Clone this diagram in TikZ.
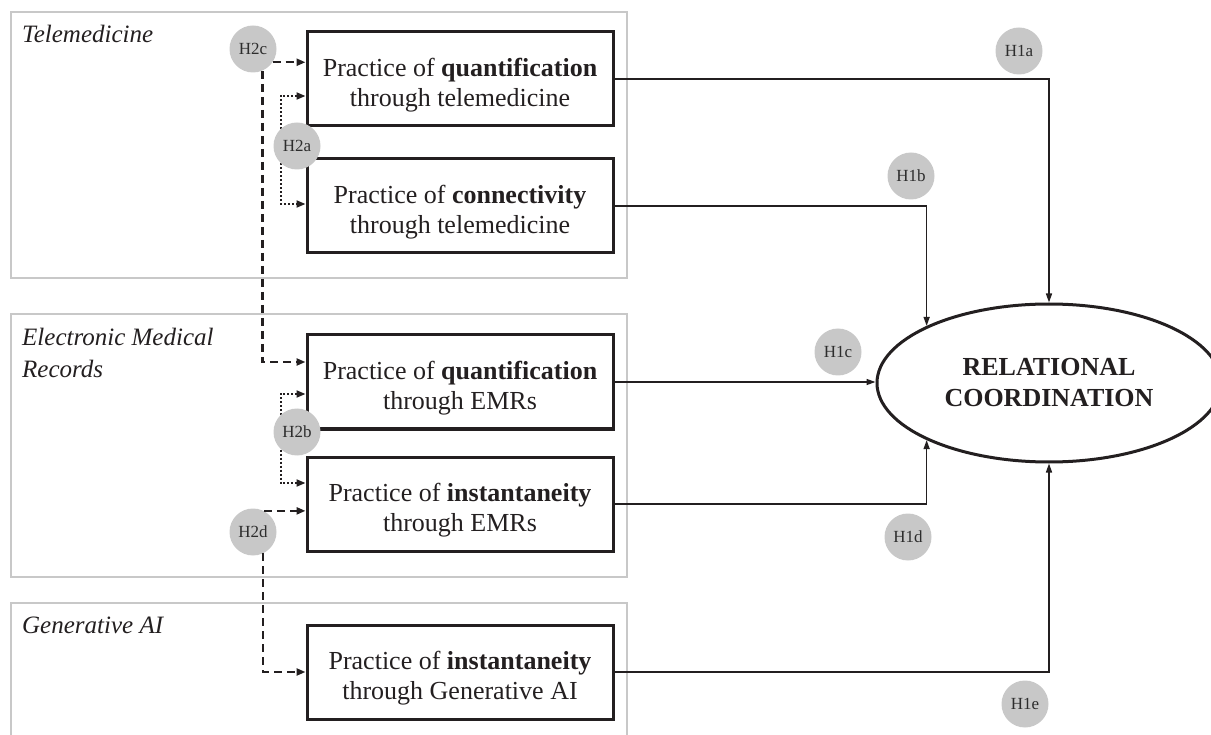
\documentclass[tikz,border=0pt]{standalone}
\usepackage{fontspec}
\setmainfont{Liberation Serif}
\usetikzlibrary{arrows.meta,shapes.geometric,calc}
\definecolor{groupgray}{RGB}{200,200,200}
\definecolor{hypgray}{RGB}{200,200,200}
\definecolor{boxblack}{RGB}{35,31,32}
\definecolor{hyptext}{RGB}{45,45,45}
\begin{document}
\begin{tikzpicture}[x=1pt,y=-1pt,
  group/.style={draw=groupgray,line width=2.5pt},
  grouptitle/.style={inner sep=0pt,align=left,font=\fontsize{25}{32}\selectfont\itshape,text=boxblack},
  practice/.style={draw=boxblack,line width=3pt,minimum width=306pt,minimum height=94pt,inner sep=0pt},
  ptext/.style={inner sep=0pt,align=center,font=\fontsize{26}{30}\selectfont,text=boxblack,yshift=-6pt},
  hyp/.style={circle,fill=hypgray,minimum size=47pt,inner sep=0pt,font=\fontsize{17}{17}\selectfont,text=hyptext},
  effect/.style={draw=boxblack,line width=1.5pt,-{Triangle[length=9pt,width=6pt]}},
  moddash/.style={draw=boxblack,line width=2.5pt,dash pattern=on 8pt off 5pt,-{Triangle[length=9pt,width=7pt]}},
  moddot/.style={draw=boxblack,line width=2pt,dash pattern=on 2pt off 2pt,{Triangle[length=9pt,width=7pt]}-{Triangle[length=9pt,width=7pt]}}
]
\useasboundingbox (0,0) rectangle (1211,735);
\clip (0,0) rectangle (1211,735);

% group frames
\draw[group] (11,12) rectangle (627,278);
\draw[group] (11,314) rectangle (627,577);
\draw[group] (11,603) rectangle (627,745);

\node[grouptitle,anchor=base west] (tTele) at (22,43) {Telemedicine};
\node[grouptitle,anchor=north west] (tEMR) at (22,328) {Electronic Medical\\Records};
\node[grouptitle,anchor=base west] (tGen) at (22,633) {Generative AI};

% practice boxes
\node[practice,label={[ptext]center:{Practice of \textbf{quantification}\\through telemedicine}}] (b1) at (460,79) {};
\node[practice,label={[ptext]center:{Practice of \textbf{connectivity}\\through telemedicine}}] (b2) at (460,206) {};
\node[practice,label={[ptext]center:{Practice of \textbf{quantification}\\through EMRs}}] (b3) at (460,382) {};
\node[practice,label={[ptext]center:{Practice of \textbf{instantaneity}\\through EMRs}}] (b4) at (460,504) {};
\node[practice,label={[ptext]center:{Practice of \textbf{instantaneity}\\through Generative AI}}] (b5) at (460,672) {};

% outcome
\node[ellipse,draw=boxblack,line width=3pt,minimum width=344pt,minimum height=158pt,inner sep=0pt,
      align=center,font=\fontsize{26}{31}\selectfont\bfseries,text=boxblack] (rc) at (1049,383)
      {RELATIONAL\\COORDINATION};

% hypothesis circles
\node[hyp] (H2c) at (253,49) {H2c};
\node[hyp] (H2d) at (253,532) {H2d};

% direct effects
\draw[effect] (b1.east) -| (rc.north);
\draw[effect] (b2.east) -| (rc.155);
\draw[effect] (b3.east) -- (b3.east -| rc.west);
\draw[effect] (b4.east) -| (rc.205);
\draw[effect] (b5.east) -| (rc.south);

% moderation (dashed)
\draw[moddash] (H2c.-34) -- (H2c.-34 -| b1.west);
\draw[moddash] (H2c.-67) |- ($(b3.west)+(0,-20)$);
\draw[moddash] (H2d.63) -- (H2d.63 -| b4.west);
\draw[moddash] (H2d.-65) |- (b5.west);

% moderation (dotted)
\draw[moddot] ($(b1.west)+(0,17)$) -- ++(-25,0) |- ($(b2.west)+(0,-2)$);
\draw[moddot] ($(b3.west)+(0,12)$) -- ++(-25,0) |- ($(b4.west)+(0,-21)$);

\node[hyp] (H2a) at (297,146) {H2a};
\node[hyp] (H2b) at (297,432) {H2b};

\node[hyp] (H1a) at (1019,51) {H1a};
\node[hyp] (H1b) at (911,176) {H1b};
\node[hyp] (H1c) at (838,352) {H1c};
\node[hyp] (H1d) at (908,537) {H1d};
\node[hyp] (H1e) at (1025,704) {H1e};
\end{tikzpicture}
\end{document}
